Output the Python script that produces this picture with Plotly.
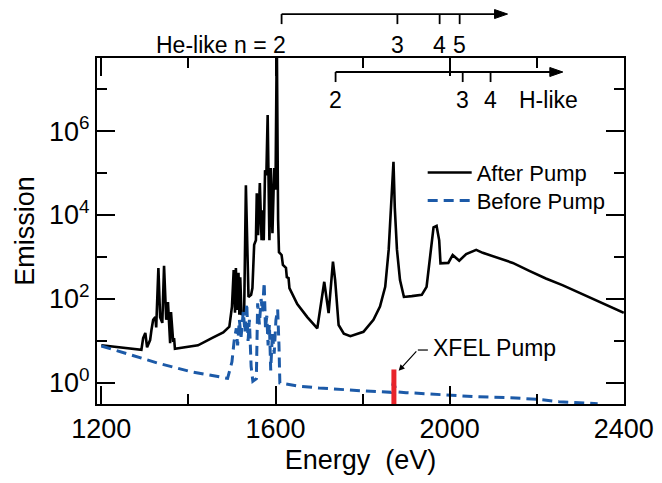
"""Emission spectrum before and after the XFEL pump (log scale)."""

import plotly.graph_objects as go

# ------------------------------------------------------------------
# Data
# ------------------------------------------------------------------

AFTER_ENERGY = [
    1200, 1292, 1296, 1301, 1305, 1312, 1315, 1319, 1324, 1326, 1331, 1335,
    1340, 1344, 1349, 1353, 1358, 1360, 1365, 1367, 1369, 1422, 1456, 1480,
    1494, 1500, 1504, 1507, 1509, 1512, 1515, 1517, 1519, 1522, 1528, 1532,
    1538, 1544, 1547, 1551, 1555, 1557, 1560, 1564, 1568, 1570, 1573, 1576,
    1579, 1582, 1586, 1589, 1593, 1597, 1600, 1603, 1606, 1608, 1614, 1617,
    1624, 1626, 1630, 1632, 1650, 1673, 1696, 1712, 1722, 1732, 1737, 1745,
    1757, 1772, 1802, 1825, 1840, 1852, 1860, 1865, 1871, 1874, 1879, 1886,
    1895, 1913, 1936, 1947, 1955, 1963, 1970, 1976, 1979, 1997, 2007, 2012,
    2022, 2038, 2061, 2076, 2107, 2145, 2183, 2221, 2259, 2305, 2350, 2400,
]
AFTER_EMISSION = [
    7.9, 6.2, 11.7, 15.5, 7.1, 10.5, 18, 32, 37, 21, 550, 37,
    27, 620, 32, 85, 8.9, 49, 9.5, 11.7, 6.5, 7.9, 12, 16,
    22, 66, 490, 47, 550, 55, 420, 42, 330, 42, 47, 51000,
    112, 126, 182, 1950, 2500, 33000, 3300, 57500, 2500, 13000, 2500, 117000,
    89000, 2.4e6, 2500, 132000, 3700, 132000, 40000, 1.6e8, 7600, 1300, 1120, 650,
    550, 330, 316, 182, 76, 37, 20, 257, 46, 776, 282, 24,
    15, 13, 16.6, 32, 66, 195, 1500, 15000, 186000, 15000, 1500, 282,
    112, 117, 126, 195, 1000, 5100, 5500, 2500, 710, 724, 1120, 1000,
    813, 1175, 1480, 1260, 977, 724, 468, 309, 214, 132, 79, 47,
]

BEFORE_ENERGY = [
    1200, 1254, 1331, 1406, 1490, 1500, 1505, 1510, 1513, 1517, 1521, 1526,
    1530, 1534, 1537, 1540, 1544, 1548, 1556, 1559, 1563, 1567, 1570, 1574,
    1577, 1580, 1583, 1586, 1589, 1593, 1597, 1601, 1605, 1608, 1610, 1650,
    1700, 1801, 1856, 1866, 1871, 1878, 1900, 1958, 2064, 2152, 2200, 2251,
    2290, 2340,
]
BEFORE_EMISSION = [
    7.6, 5.1, 2.95, 1.86, 1.29, 3.2, 10, 20, 7.9, 32, 12.6, 50,
    16, 79, 10, 32, 2.5, 1.1, 1.26, 79, 25, 100, 50, 250,
    20, 40, 7.9, 25, 2.0, 16, 5, 32, 56, 7.9, 1.0, 0.85,
    0.76, 0.65, 0.62, 0.6, 1.05, 0.62, 0.59, 0.54, 0.47, 0.44, 0.41, 0.36,
    0.34, 0.32,
]

PUMP_ENERGY = 1872
PUMP_SPAN = [0.1, 2.1]

HE_LIKE_N = ["2", "3", "4", "5"]
HE_LIKE_E = [1614, 1880, 1977, 2023]
H_LIKE_N = ["2", "3", "4"]
H_LIKE_E = [1738, 2030, 2094]

X_TICKS = [1200, 1600, 2000, 2400]
X_MINOR = [1400, 1800, 2200]
Y_TICKS = [1, 1e2, 1e4, 1e6]
Y_TICKTEXT = ["10<sup>0</sup>", "10<sup>2</sup>", "10<sup>4</sup>", "10<sup>6</sup>"]
Y_MINOR = [10, 1e3, 1e5, 1e7]

# ------------------------------------------------------------------
# Style
# ------------------------------------------------------------------

FONT = "Liberation Sans, Arial, Helvetica, sans-serif"
BLUE = "#1c5aa8"
RED = "#e8232a"
X_RANGE = [1190, 2400.5]
PX_PER_EV = 527 / 1210  # horizontal scale, used to size arrow heads
PLOT_H = 346  # plot area height in px


def _arrow_head(x_tip: float, y: float) -> dict:
    """Filled right-pointing triangle at (x_tip [eV], y [paper])."""
    back = x_tip - 13 / PX_PER_EV
    h = 4.5 / PLOT_H
    return dict(
        type="path",
        xref="x",
        yref="paper",
        path=f"M {back},{y - h} L {x_tip},{y} L {back},{y + h} Z",
        fillcolor="black",
        line=dict(color="black", width=1),
    )


def _series_bracket(energies, y_line, tick, x_tip):
    """Horizontal line with a downward tick at each level."""
    shapes = [
        dict(type="line", xref="x", yref="paper", x0=energies[0], x1=x_tip - 5,
             y0=y_line, y1=y_line, line=dict(color="black", width=1.8)),
        _arrow_head(x_tip, y_line),
    ]
    for e in energies:
        shapes.append(
            dict(type="line", xref="x", yref="paper", x0=e, x1=e,
                 y0=y_line, y1=y_line - tick, line=dict(color="black", width=1.8))
        )
    return shapes


fig = go.Figure()

fig.add_trace(
    go.Scatter(
        x=AFTER_ENERGY,
        y=AFTER_EMISSION,
        mode="lines",
        name="After Pump",
        line=dict(color="black", width=2.6),
        legend="legend",
    )
)
fig.add_trace(
    go.Scatter(
        x=BEFORE_ENERGY,
        y=BEFORE_EMISSION,
        mode="lines",
        name="Before Pump",
        line=dict(color=BLUE, width=3, dash="10px,6px"),
        legend="legend2",
    )
)
fig.add_trace(
    go.Scatter(
        x=[PUMP_ENERGY, PUMP_ENERGY],
        y=PUMP_SPAN,
        mode="lines",
        line=dict(color=RED, width=5),
        showlegend=False,
        hoverinfo="skip",
    )
)

shapes = []
shapes += _series_bracket(HE_LIKE_E, 1.127, 0.029, 2133)
shapes += _series_bracket(H_LIKE_E, 0.9595, 0.029, 2260)
# short horizontal lead of the XFEL arrow
shapes.append(dict(type="line", xref="x", yref="paper", x0=1927, x1=1950,
                   y0=0.156, y1=0.156, line=dict(color="black", width=1.2)))

annotations = [
    dict(x=1628, y=1.038, xref="x", yref="paper", text="He-like n = 2",
         xanchor="right", yanchor="middle", showarrow=False),
    dict(x=2227, y=0.879, xref="x", yref="paper", text="H-like",
         xanchor="center", yanchor="middle", showarrow=False),
    dict(x=1958, y=0.162, xref="x", yref="paper", text="XFEL Pump",
         xanchor="left", yanchor="middle", showarrow=False),
    dict(x=1883, y=0.29, xref="x", yref="y", text="", showarrow=True,
         ax=19, ay=-21, arrowhead=2, arrowsize=1, arrowwidth=1.2,
         arrowcolor="black"),
]
for n, e in zip(HE_LIKE_N[1:], HE_LIKE_E[1:]):
    annotations.append(dict(x=e, y=1.038, xref="x", yref="paper", text=n,
                            showarrow=False, yanchor="middle"))
for n, e in zip(H_LIKE_N, H_LIKE_E):
    annotations.append(dict(x=e, y=0.879, xref="x", yref="paper", text=n,
                            showarrow=False, yanchor="middle"))
for a in annotations:
    a.setdefault("font", dict(family=FONT, size=23, color="black"))

axis_common = dict(
    showline=True,
    linecolor="black",
    linewidth=2,
    mirror="ticks",
    ticks="inside",
    ticklen=18,
    tickwidth=1.5,
    tickcolor="black",
    showgrid=False,
    zeroline=False,
    automargin=False,
    ticklabeloverflow="allow",
    tickfont=dict(family=FONT, size=27, color="black"),
)

legend_common = dict(
    x=0.618,
    xanchor="left",
    yanchor="top",
    itemwidth=44,
    bgcolor="rgba(0,0,0,0)",
    font=dict(family=FONT, size=22, color="black"),
)

# the page body adds an 8px margin on every side; the figure is kept small
# enough that the page does not overflow the window
fig.update_layout(
    width=654,
    height=467,
    autosize=False,
    margin=dict(l=89, r=38, t=50, b=71),
    paper_bgcolor="white",
    plot_bgcolor="white",
    font=dict(family=FONT, color="black"),
    shapes=shapes,
    annotations=annotations,
    legend=dict(**legend_common, y=0.729),
    legend2=dict(**legend_common, y=0.648),
    xaxis=dict(
        **axis_common,
        range=X_RANGE,
        tickvals=X_TICKS,
        minor=dict(tickvals=X_MINOR, ticks="inside", ticklen=10, tickwidth=1.5,
                   tickcolor="black"),
        title=dict(text="Energy \u00a0(eV)", font=dict(family=FONT, size=27),
                   standoff=10),
    ),
    yaxis=dict(
        **axis_common,
        type="log",
        range=[-0.5, 7.74],
        tickvals=Y_TICKS,
        ticktext=Y_TICKTEXT,
        minor=dict(tickvals=Y_MINOR, ticks="inside", ticklen=10, tickwidth=1.5,
                   tickcolor="black"),
        title=dict(text="Emission", font=dict(family=FONT, size=27), standoff=7),
    ),
)

fig.write_html("out.html")
